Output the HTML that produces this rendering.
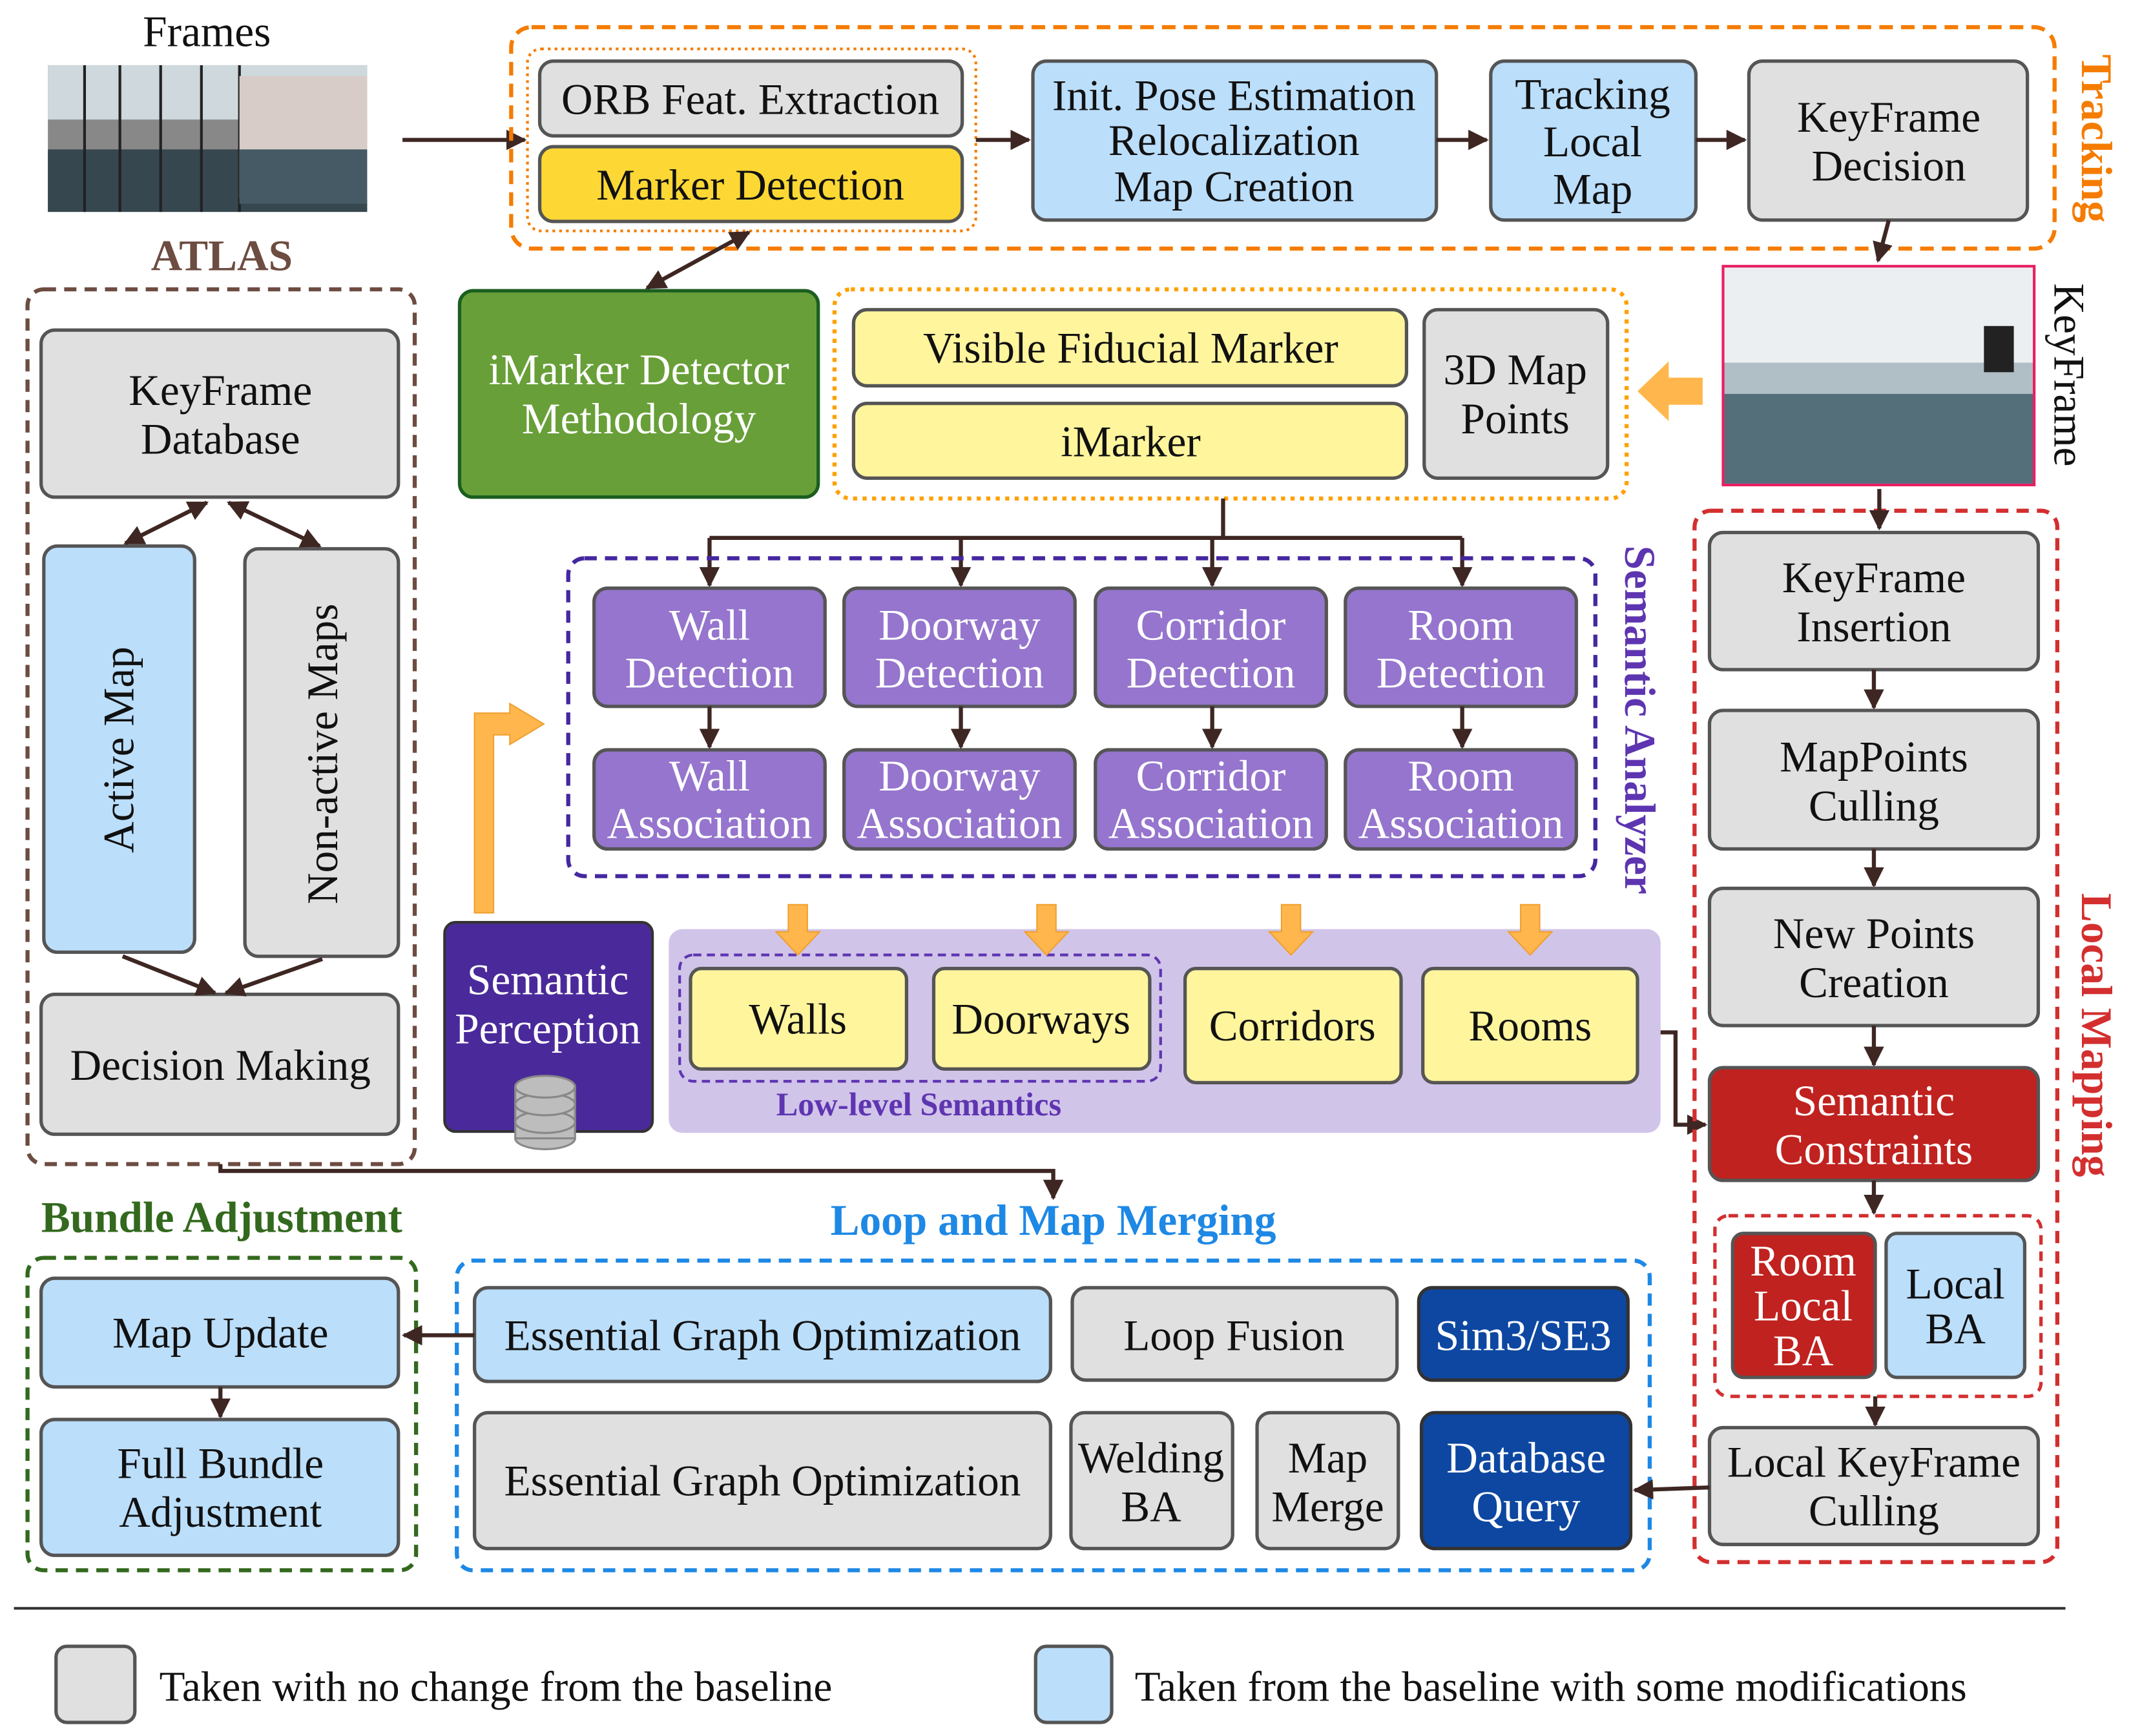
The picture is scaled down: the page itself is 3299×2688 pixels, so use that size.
<!DOCTYPE html>
<html><head><meta charset="utf-8"><style>html,body{margin:0;padding:0;background:#fff}svg{display:block}</style></head><body>
<svg xmlns="http://www.w3.org/2000/svg" width="3299" height="2688" viewBox="0 0 1568 1278" font-family="Liberation Serif, serif">
<defs>
<marker id="a" viewBox="0 0 10 10" refX="9" refY="5" markerWidth="5" markerHeight="5" orient="auto-start-reverse"><path d="M0,0 L10,5 L0,10 z" fill="#3e2723"/></marker>
</defs>
<style>
.g{fill:#e0e0e0;stroke:#555;stroke-width:2.5}
.b{fill:#bbdefb;stroke:#555;stroke-width:2.5}
.p{fill:#9575cd;stroke:#555;stroke-width:2.5}
.y{fill:#fff59d;stroke:#555;stroke-width:2.5}
.ln{stroke:#3e2723;stroke-width:3;fill:none}
text{font-size:32px;text-anchor:middle;fill:#111}
.w{fill:#fff}
</style>
<text x="152" y="34">Frames</text>
<g>
<rect x="35" y="48" width="235" height="108" fill="#888"/>
<rect x="35" y="48" width="235" height="40" fill="#cfd8dc"/>
<rect x="35" y="110" width="235" height="46" fill="#37474f"/>
<g stroke="#222" stroke-width="2"><line x1="62" y1="48" x2="62" y2="156"/><line x1="88" y1="48" x2="88" y2="156"/><line x1="118" y1="48" x2="118" y2="156"/><line x1="148" y1="48" x2="148" y2="156"/><line x1="176" y1="48" x2="176" y2="156"/></g>
<rect x="176" y="56" width="94" height="90" fill="#d7ccc8"/>
<rect x="176" y="110" width="94" height="40" fill="#455a64"/>
</g>
<line x1="296" y1="103" x2="386" y2="103" class="ln" marker-end="url(#a)"/>
<rect x="376" y="20" width="1136" height="163" rx="15" fill="none" stroke="#f57c00" stroke-width="3" stroke-dasharray="10,6"/>
<text transform="translate(1532,102) rotate(90)" font-weight="bold" style="fill:#f57c00">Tracking</text>
<rect x="388" y="36" width="330" height="134" rx="10" fill="none" stroke="#f57c00" stroke-width="2" stroke-dasharray="2,3"/>
<rect x="397" y="45" width="311" height="55" rx="10" class="g"/><text x="552" y="84">ORB Feat. Extraction</text>
<rect x="397" y="108" width="311" height="55" rx="10" fill="#fdd835" stroke="#555" stroke-width="2.5"/><text x="552" y="147">Marker Detection</text>
<line x1="718" y1="103" x2="757" y2="103" class="ln" marker-end="url(#a)"/>
<rect x="760" y="45" width="297" height="117" rx="10" class="b"/><text x="908" y="81">Init. Pose Estimation</text><text x="908" y="114">Relocalization</text><text x="908" y="148">Map Creation</text>
<line x1="1057" y1="103" x2="1094" y2="103" class="ln" marker-end="url(#a)"/>
<rect x="1097" y="45" width="151" height="117" rx="10" class="b"/><text x="1172" y="80">Tracking</text><text x="1172" y="115">Local</text><text x="1172" y="150">Map</text>
<line x1="1248" y1="103" x2="1284" y2="103" class="ln" marker-end="url(#a)"/>
<rect x="1287" y="45" width="205" height="117" rx="10" class="g"/><text x="1390" y="97">KeyFrame</text><text x="1390" y="133">Decision</text>
<line x1="1390" y1="162" x2="1382" y2="192" class="ln" marker-end="url(#a)"/>
<rect x="1268" y="196" width="229" height="161" fill="#b0bec5" stroke="#e91e63" stroke-width="2"/>
<rect x="1269" y="197" width="227" height="70" fill="#eceff1"/>
<rect x="1269" y="290" width="227" height="66" fill="#546e7a"/>
<rect x="1460" y="240" width="22" height="34" fill="#222"/>
<text transform="translate(1512,276) rotate(90)">KeyFrame</text>
<path d="M1253,278 L1228,278 L1228,266 L1205,288 L1228,310 L1228,298 L1253,298 z" fill="#ffb74d"/>
<text x="163" y="199" font-weight="bold" style="fill:#6d4c41">ATLAS</text>
<rect x="20" y="213" width="285" height="644" rx="12" fill="none" stroke="#6d4c41" stroke-width="3" stroke-dasharray="9,6"/>
<rect x="30" y="243" width="263" height="123" rx="10" class="g"/><text x="162" y="298">KeyFrame</text><text x="162" y="334">Database</text>
<rect x="32" y="402" width="111" height="299" rx="10" class="b"/><text transform="translate(98,552) rotate(-90)">Active Map</text>
<rect x="180" y="404" width="113" height="300" rx="10" class="g"/><text transform="translate(248,555) rotate(-90)">Non-active Maps</text>
<line x1="152" y1="370" x2="92" y2="400" class="ln" marker-end="url(#a)" marker-start="url(#a)"/>
<line x1="168" y1="370" x2="235" y2="402" class="ln" marker-end="url(#a)" marker-start="url(#a)"/>
<rect x="30" y="732" width="263" height="103" rx="10" class="g"/><text x="162" y="795">Decision Making</text>
<line x1="90" y1="704" x2="158" y2="731" class="ln" marker-end="url(#a)"/>
<line x1="237" y1="706" x2="166" y2="731" class="ln" marker-end="url(#a)"/>
<rect x="338" y="214" width="264" height="152" rx="10" fill="#689f38" stroke="#1b5e20" stroke-width="2.5"/>
<text x="470" y="283" class="w">iMarker Detector</text><text x="470" y="319" class="w">Methodology</text>
<line x1="476" y1="212" x2="551" y2="171" class="ln" marker-end="url(#a)" marker-start="url(#a)"/>
<rect x="614" y="213" width="583" height="154" rx="12" fill="none" stroke="#ffa000" stroke-width="3" stroke-dasharray="3,4"/>
<rect x="628" y="228" width="407" height="56" rx="10" class="y"/><text x="832" y="267">Visible Fiducial Marker</text>
<rect x="628" y="297" width="407" height="55" rx="10" class="y"/><text x="832" y="336">iMarker</text>
<rect x="1048" y="228" width="135" height="124" rx="10" class="g"/><text x="1115" y="283">3D Map</text><text x="1115" y="319">Points</text>
<path d="M900,367 V396 M522,396 H1076" class="ln"/>
<line x1="522" y1="396" x2="522" y2="431" class="ln" marker-end="url(#a)"/>
<line x1="707" y1="396" x2="707" y2="431" class="ln" marker-end="url(#a)"/>
<line x1="892" y1="396" x2="892" y2="431" class="ln" marker-end="url(#a)"/>
<line x1="1076" y1="396" x2="1076" y2="431" class="ln" marker-end="url(#a)"/>
<rect x="418" y="411" width="756" height="234" rx="12" fill="none" stroke="#4527a0" stroke-width="3" stroke-dasharray="9,6"/>
<text transform="translate(1196,530) rotate(90)" font-weight="bold" style="fill:#5e35b1">Semantic Analyzer</text>
<g>
<rect x="437" y="433" width="170" height="87" rx="10" class="p"/><text x="522" y="471" class="w">Wall</text><text x="522" y="506" class="w">Detection</text>
<rect x="621" y="433" width="170" height="87" rx="10" class="p"/><text x="706" y="471" class="w">Doorway</text><text x="706" y="506" class="w">Detection</text>
<rect x="806" y="433" width="170" height="87" rx="10" class="p"/><text x="891" y="471" class="w">Corridor</text><text x="891" y="506" class="w">Detection</text>
<rect x="990" y="433" width="170" height="87" rx="10" class="p"/><text x="1075" y="471" class="w">Room</text><text x="1075" y="506" class="w">Detection</text>
<rect x="437" y="552" width="170" height="73" rx="10" class="p"/><text x="522" y="582" class="w">Wall</text><text x="522" y="617" class="w">Association</text>
<rect x="621" y="552" width="170" height="73" rx="10" class="p"/><text x="706" y="582" class="w">Doorway</text><text x="706" y="617" class="w">Association</text>
<rect x="806" y="552" width="170" height="73" rx="10" class="p"/><text x="891" y="582" class="w">Corridor</text><text x="891" y="617" class="w">Association</text>
<rect x="990" y="552" width="170" height="73" rx="10" class="p"/><text x="1075" y="582" class="w">Room</text><text x="1075" y="617" class="w">Association</text>
<line x1="522" y1="520" x2="522" y2="550" class="ln" marker-end="url(#a)"/>
<line x1="707" y1="520" x2="707" y2="550" class="ln" marker-end="url(#a)"/>
<line x1="892" y1="520" x2="892" y2="550" class="ln" marker-end="url(#a)"/>
<line x1="1076" y1="520" x2="1076" y2="550" class="ln" marker-end="url(#a)"/>
</g>
<path d="M349,672 V525 H375 V518 L400,533 L375,548 V541 H363 V672 z" fill="#ffb74d" stroke="#f0a030" stroke-width="1"/>
<rect x="327" y="679" width="153" height="154" rx="8" fill="#4a2a9a" stroke="#333" stroke-width="2"/>
<text x="403" y="732" class="w">Semantic</text><text x="403" y="768" class="w">Perception</text>
<g fill="#bdbdbd" stroke="#888" stroke-width="1.5"><ellipse cx="401" cy="838" rx="22" ry="8"/><rect x="379" y="800" width="44" height="38"/><ellipse cx="401" cy="826" rx="22" ry="8"/><ellipse cx="401" cy="813" rx="22" ry="8"/><ellipse cx="401" cy="800" rx="22" ry="8"/></g>
<rect x="492" y="684" width="730" height="150" rx="10" fill="#d1c4e9"/>
<rect x="500" y="703" width="354" height="93" rx="10" fill="none" stroke="#5e35b1" stroke-width="2" stroke-dasharray="6,4"/>
<rect x="508" y="713" width="159" height="74" rx="8" fill="#fff59d" stroke="#555" stroke-width="2.5"/><text x="587" y="761">Walls</text>
<rect x="687" y="713" width="159" height="74" rx="8" fill="#fff59d" stroke="#555" stroke-width="2.5"/><text x="766" y="761">Doorways</text>
<rect x="872" y="713" width="159" height="84" rx="8" fill="#fff59d" stroke="#555" stroke-width="2.5"/><text x="951" y="766">Corridors</text>
<rect x="1047" y="713" width="158" height="84" rx="8" fill="#fff59d" stroke="#555" stroke-width="2.5"/><text x="1126" y="766">Rooms</text>
<text x="676" y="821" font-weight="bold" style="fill:#5e35b1;font-size:24px">Low-level Semantics</text>
<g fill="#ffb74d" stroke="#f0a030" stroke-width="1">
<path d="M580,666 h14 v20 h9 l-16,17 l-16,-17 h9 z"/>
<path d="M763,666 h14 v20 h9 l-16,17 l-16,-17 h9 z"/>
<path d="M943,666 h14 v20 h9 l-16,17 l-16,-17 h9 z"/>
<path d="M1119,666 h14 v20 h9 l-16,17 l-16,-17 h9 z"/>
</g>
<path d="M1222,760 H1233 V828 H1255" class="ln" marker-end="url(#a)"/>
<rect x="1247" y="376" width="267" height="774" rx="12" fill="none" stroke="#d32f2f" stroke-width="3" stroke-dasharray="9,6"/>
<text transform="translate(1532,762) rotate(90)" font-weight="bold" style="fill:#d32f2f">Local Mapping</text>
<line x1="1383" y1="360" x2="1383" y2="389" class="ln" marker-end="url(#a)"/>
<rect x="1258" y="392" width="242" height="101" rx="10" class="g"/><text x="1379" y="436">KeyFrame</text><text x="1379" y="472">Insertion</text>
<line x1="1379" y1="493" x2="1379" y2="521" class="ln" marker-end="url(#a)"/>
<rect x="1258" y="523" width="242" height="102" rx="10" class="g"/><text x="1379" y="568">MapPoints</text><text x="1379" y="604">Culling</text>
<line x1="1379" y1="625" x2="1379" y2="652" class="ln" marker-end="url(#a)"/>
<rect x="1258" y="654" width="242" height="101" rx="10" class="g"/><text x="1379" y="698">New Points</text><text x="1379" y="734">Creation</text>
<line x1="1379" y1="755" x2="1379" y2="784" class="ln" marker-end="url(#a)"/>
<rect x="1258" y="786" width="242" height="83" rx="10" fill="#c0221f" stroke="#555" stroke-width="2.5"/><text x="1379" y="821" class="w">Semantic</text><text x="1379" y="857" class="w">Constraints</text>
<line x1="1379" y1="869" x2="1379" y2="893" class="ln" marker-end="url(#a)"/>
<rect x="1262" y="895" width="240" height="133" rx="10" fill="none" stroke="#d32f2f" stroke-width="2.5" stroke-dasharray="7,5"/>
<rect x="1275" y="908" width="105" height="106" rx="8" fill="#c0221f" stroke="#555" stroke-width="2.5"/><text x="1327" y="939" class="w">Room</text><text x="1327" y="972" class="w">Local</text><text x="1327" y="1005" class="w">BA</text>
<rect x="1388" y="908" width="102" height="106" rx="8" class="b"/><text x="1439" y="956">Local</text><text x="1439" y="989">BA</text>
<line x1="1380" y1="1028" x2="1380" y2="1049" class="ln" marker-end="url(#a)"/>
<rect x="1258" y="1051" width="242" height="86" rx="10" class="g"/><text x="1379" y="1087">Local KeyFrame</text><text x="1379" y="1123">Culling</text>
<path d="M162,857 V862 H775 V882" class="ln" marker-end="url(#a)"/>
<text x="775" y="909" font-weight="bold" style="fill:#1e88e5">Loop and Map Merging</text>
<text x="163" y="907" font-weight="bold" style="fill:#33691e">Bundle Adjustment</text>
<rect x="20" y="926" width="286" height="230" rx="12" fill="none" stroke="#33691e" stroke-width="3" stroke-dasharray="9,6"/>
<rect x="30" y="941" width="263" height="80" rx="10" class="b"/><text x="162" y="992">Map Update</text>
<line x1="162" y1="1021" x2="162" y2="1043" class="ln" marker-end="url(#a)"/>
<rect x="30" y="1045" width="263" height="100" rx="10" class="b"/><text x="162" y="1088">Full Bundle</text><text x="162" y="1124">Adjustment</text>
<rect x="336" y="928" width="878" height="228" rx="12" fill="none" stroke="#1e88e5" stroke-width="3" stroke-dasharray="9,6"/>
<rect x="349" y="948" width="424" height="69" rx="10" class="b"/><text x="561" y="994">Essential Graph Optimization</text>
<rect x="789" y="948" width="239" height="68" rx="10" class="g"/><text x="908" y="994">Loop Fusion</text>
<rect x="1044" y="948" width="154" height="68" rx="10" fill="#0d47a1" stroke="#333" stroke-width="2.5"/><text x="1121" y="994" class="w">Sim3/SE3</text>
<line x1="349" y1="983" x2="297" y2="983" class="ln" marker-end="url(#a)"/>
<rect x="349" y="1040" width="424" height="100" rx="10" class="g"/><text x="561" y="1101">Essential Graph Optimization</text>
<rect x="788" y="1040" width="119" height="100" rx="10" class="g"/><text x="847" y="1084">Welding</text><text x="847" y="1120">BA</text>
<rect x="925" y="1040" width="104" height="100" rx="10" class="g"/><text x="977" y="1084">Map</text><text x="977" y="1120">Merge</text>
<rect x="1046" y="1040" width="154" height="100" rx="10" fill="#0d47a1" stroke="#333" stroke-width="2.5"/><text x="1123" y="1084" class="w">Database</text><text x="1123" y="1120" class="w">Query</text>
<line x1="1258" y1="1095" x2="1203" y2="1097" class="ln" marker-end="url(#a)"/>
<line x1="10" y1="1184" x2="1520" y2="1184" stroke="#333" stroke-width="2"/>
<rect x="41" y="1212" width="58" height="56" rx="8" class="g"/>
<text x="117" y="1252" style="text-anchor:start;font-size:31px">Taken with no change from the baseline</text>
<rect x="762" y="1212" width="56" height="56" rx="8" class="b"/>
<text x="835" y="1252" style="text-anchor:start;font-size:31px">Taken from the baseline with some modifications</text>
</svg>
</body></html>
